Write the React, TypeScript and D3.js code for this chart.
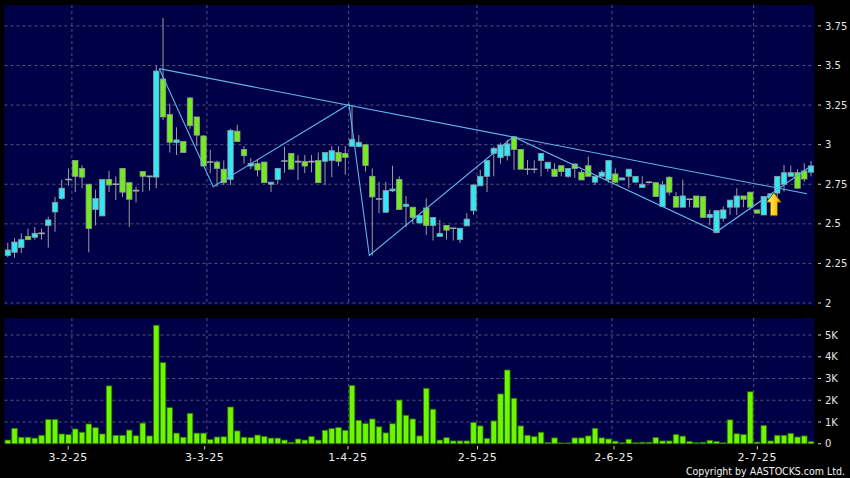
import React from "react";
import * as d3 from "d3";

// Daily OHLC prices (HKD) and turnover
const opens = [
  2.30, 2.32, 2.35, 2.42, 2.415, 2.44, 2.49, 2.575, 2.66, 2.78,
  2.90, 2.85, 2.75, 2.59, 2.55, 2.78, 2.75, 2.85, 2.76, 2.71,
  2.83, 2.80, 2.795, 3.415, 3.19, 3.013, 3.02, 3.295, 3.175, 3.055,
  2.89, 2.89, 2.845, 2.78, 3.085, 2.97, 2.865, 2.88, 2.89, 2.75,
  2.78, 2.897, 2.945, 2.893, 2.893, 2.893, 2.90, 2.895, 2.90, 2.95,
  2.945, 2.99, 2.987, 3.00, 2.80, 2.657, 2.573, 2.708, 2.78, 2.61,
  2.605, 2.505, 2.60, 2.49, 2.42, 2.49, 2.472, 2.40, 2.487, 2.583,
  2.74, 2.80, 2.945, 2.918, 2.93, 3.05, 2.97, 2.845, 2.845, 2.90,
  2.85, 2.845, 2.867, 2.80, 2.878, 2.826, 2.867, 2.763, 2.80, 2.78,
  2.815, 2.777, 2.80, 2.763, 2.73, 2.763, 2.76, 2.61, 2.794, 2.672,
  2.605, 2.655, 2.676, 2.672, 2.54, 2.444, 2.535, 2.605, 2.605, 2.676,
  2.70, 2.588, 2.556, 2.66, 2.694, 2.75, 2.80, 2.823, 2.834, 2.826,
];
const highs = [
  2.38, 2.41, 2.44, 2.47, 2.48, 2.47, 2.545, 2.67, 2.78, 2.85,
  2.90, 2.87, 2.75, 2.715, 2.78, 2.835, 2.80, 2.85, 2.76, 2.735,
  2.83, 2.80, 3.50, 3.80, 3.26, 3.11, 3.02, 3.30, 3.175, 3.06,
  2.967, 2.90, 2.90, 3.10, 3.125, 2.99, 2.915, 2.91, 2.89, 2.765,
  2.85, 2.987, 2.945, 2.935, 2.935, 2.935, 2.95, 2.95, 2.99, 2.99,
  2.99, 3.25, 3.06, 3.00, 2.85, 2.766, 2.765, 2.867, 2.80, 2.675,
  2.605, 2.56, 2.66, 2.54, 2.525, 2.49, 2.472, 2.472, 2.567, 2.746,
  2.84, 2.90, 2.987, 3.01, 3.03, 3.05, 2.97, 2.903, 2.90, 2.945,
  2.889, 2.882, 2.867, 2.85, 2.882, 2.84, 2.925, 2.80, 2.84, 2.90,
  2.85, 2.79, 2.845, 2.80, 2.80, 2.77, 2.76, 2.77, 2.80, 2.70,
  2.78, 2.655, 2.676, 2.672, 2.59, 2.583, 2.61, 2.65, 2.725, 2.676,
  2.70, 2.588, 2.672, 2.69, 2.80, 2.872, 2.867, 2.845, 2.882, 2.897,
];
const lows = [
  2.29, 2.285, 2.315, 2.40, 2.40, 2.40, 2.35, 2.45, 2.65, 2.74,
  2.70, 2.725, 2.32, 2.49, 2.55, 2.70, 2.65, 2.67, 2.48, 2.635,
  2.70, 2.71, 2.725, 3.155, 2.95, 2.935, 2.95, 3.10, 2.99, 2.865,
  2.82, 2.735, 2.745, 2.745, 3.02, 2.88, 2.845, 2.80, 2.76, 2.70,
  2.75, 2.823, 2.845, 2.777, 2.82, 2.825, 2.76, 2.745, 2.795, 2.865,
  2.81, 2.987, 2.985, 2.83, 2.30, 2.567, 2.573, 2.70, 2.59, 2.48,
  2.50, 2.505, 2.43, 2.395, 2.42, 2.40, 2.395, 2.38, 2.487, 2.556,
  2.74, 2.70, 2.80, 2.88, 2.90, 2.84, 2.845, 2.81, 2.82, 2.80,
  2.83, 2.80, 2.80, 2.79, 2.79, 2.777, 2.80, 2.745, 2.80, 2.76,
  2.76, 2.777, 2.725, 2.76, 2.73, 2.755, 2.672, 2.61, 2.68, 2.605,
  2.605, 2.605, 2.605, 2.54, 2.49, 2.444, 2.514, 2.556, 2.556, 2.605,
  2.59, 2.567, 2.556, 2.64, 2.67, 2.703, 2.80, 2.725, 2.766, 2.80,
];
const closes = [
  2.335, 2.385, 2.40, 2.40, 2.44, 2.44, 2.525, 2.635, 2.725, 2.78,
  2.80, 2.795, 2.47, 2.66, 2.78, 2.745, 2.75, 2.70, 2.655, 2.71,
  2.80, 2.80, 3.465, 3.175, 3.015, 3.03, 2.95, 3.12, 3.06, 2.865,
  2.89, 2.85, 2.76, 3.09, 3.02, 2.93, 2.882, 2.84, 2.76, 2.763,
  2.85, 2.897, 2.845, 2.893, 2.865, 2.893, 2.76, 2.95, 2.962, 2.895,
  2.92, 3.034, 3.015, 2.868, 2.67, 2.657, 2.71, 2.72, 2.59, 2.624,
  2.54, 2.552, 2.49, 2.54, 2.44, 2.46, 2.472, 2.472, 2.53, 2.746,
  2.80, 2.90, 2.977, 2.998, 3.005, 2.97, 2.845, 2.845, 2.845, 2.945,
  2.889, 2.80, 2.83, 2.85, 2.85, 2.777, 2.80, 2.80, 2.826, 2.90,
  2.763, 2.79, 2.845, 2.80, 2.75, 2.763, 2.672, 2.746, 2.70, 2.605,
  2.676, 2.655, 2.605, 2.54, 2.56, 2.583, 2.588, 2.65, 2.676, 2.655,
  2.605, 2.567, 2.672, 2.69, 2.80, 2.823, 2.823, 2.725, 2.783, 2.866,
];
const volumes = [
  170, 710, 300, 300, 260, 390, 1120, 1120, 450, 420,
  680, 530, 910, 740, 450, 2660, 390, 390, 630, 370,
  950, 360, 5450, 3730, 1660, 490, 300, 1400, 490, 490,
  200, 310, 320, 1690, 590, 300, 280, 400, 340, 260,
  260, 170, 70, 220, 170, 340, 170, 620, 700, 750,
  620, 2680, 1080, 930, 1140, 780, 500, 920, 2010, 1310,
  1140, 360, 2550, 1590, 170, 280, 130, 130, 130, 980,
  820, 250, 1050, 2290, 3390, 2090, 820, 390, 330, 530,
  60, 270, 40, 40, 270, 270, 360, 710, 270, 220,
  120, 50, 210, 50, 70, 70, 290, 130, 130, 430,
  350, 110, 50, 70, 160, 110, 50, 1100, 460, 430,
  2390, 80, 840, 130, 390, 390, 480, 310, 360, 100,
];

// Month-start sessions marked on the time axis
const dateTickIndex = [10, 30, 51, 70, 90, 111];
const dateTickLabels = ["3-2-25", "3-3-25", "1-4-25", "2-5-25", "2-6-25", "2-7-25"];

const priceTicks = [2, 2.25, 2.5, 2.75, 3, 3.25, 3.5, 3.75];
const priceTickLabels = ["2", "2.25", "2.5", "2.75", "3", "3.25", "3.5", "3.75"];
const volumeTicks = [0, 1000, 2000, 3000, 4000, 5000];
const volumeTickLabels = ["0", "1K", "2K", "3K", "4K", "5K"];

// Pattern overlay: swing zigzag and descending resistance (session index, price)
const zigzagIndex = [22.44, 30.44, 50.55, 53.56, 74.89, 105.0, 118.85];
const zigzagPrice = [3.48, 2.735, 3.255, 2.30, 3.05, 2.45, 2.86];
const resistanceIndex = [22.44, 118.4];
const resistancePrice = [3.48, 2.69];
const breakoutIndex = 113.5;

const W = 850;
const H = 478;
const plotLeft = 4.4;
const plotRight = 814.4;
const priceTop = 5;
const priceBottom = 305;
const volTop = 318;
const volBottom = 444;

const CYAN = "#33e8f4";
const GREEN = "#74ec1c";
const VOL_GREEN = "#6cf700";
const GRID = "#52527e";
const TREND = "#5fb4ea";
const NAVY = "#000046";
const FONT = "'DejaVu Sans', sans-serif";

export default function App() {
  const n = closes.length;
  const idx = d3.range(n);

  const xBand = d3.scaleBand<number>().domain(idx).range([plotLeft, plotRight]).paddingInner(0.2).paddingOuter(0.1);
  const step = xBand.step();
  const xC = (i: number) => (xBand(i) as number) + xBand.bandwidth() / 2;
  const xLin = d3.scaleLinear().domain([0, n - 1]).range([xC(0), xC(n - 1)]);
  const gridX = (i: number) => plotLeft + i * step;
  // Labels spread slightly wider than the grid positions
  const labelX = d3.scaleLinear().domain([plotLeft, plotRight]).range([plotLeft - 4.4, plotRight + 4.3]);

  const yP = d3.scaleLinear().domain([2, 3.75]).range([303, 25.9]);
  const yV = d3.scaleLinear().domain([0, 5000]).range([443.75, 335]);

  const zigLine = d3
    .line<number>()
    .x((i) => xLin(zigzagIndex[i]))
    .y((i) => yP(zigzagPrice[i]));
  const resLine = d3
    .line<number>()
    .x((i) => xLin(resistanceIndex[i]))
    .y((i) => yP(resistancePrice[i]));

  const bw = 5.4;
  const vbw = 5.6;

  const ax = xLin(breakoutIndex);
  const ay = yP(closes[113]) - 1;

  return (
    <svg
      width={W}
      height={H}
      viewBox={`0 0 ${W} ${H}`}
      style={{ position: "absolute", left: 0, top: 0, display: "block", background: "#000" }}
      fontFamily={FONT}
    >
      <defs>
        <linearGradient id="arrowFill" x1="0" y1="0" x2="1" y2="0">
          <stop offset="0%" stopColor="#fff27a" />
          <stop offset="55%" stopColor="#ffd21e" />
          <stop offset="100%" stopColor="#e89400" />
        </linearGradient>
        <clipPath id="priceClip">
          <rect x={plotLeft} y={priceTop} width={plotRight - plotLeft} height={priceBottom - priceTop} />
        </clipPath>
      </defs>
      <rect x={0} y={0} width={W} height={H} fill="#000" />

      {/* price panel */}
      <rect x={plotLeft} y={priceTop} width={plotRight - plotLeft} height={priceBottom - priceTop} fill={NAVY} />
      {priceTicks.map((p) => (
        <line key={"pg" + p} x1={plotLeft} x2={plotRight} y1={yP(p)} y2={yP(p)} stroke={GRID} strokeDasharray="3,3" />
      ))}
      {dateTickIndex.map((i) => (
        <line key={"pv" + i} x1={gridX(i)} x2={gridX(i)} y1={priceTop} y2={priceBottom} stroke={GRID} strokeDasharray="3,3" />
      ))}

      {/* volume panel */}
      <rect x={plotLeft} y={volTop} width={plotRight - plotLeft} height={volBottom - volTop} fill={NAVY} />
      {volumeTicks.slice(1).map((v) => (
        <line key={"vg" + v} x1={plotLeft} x2={plotRight} y1={yV(v)} y2={yV(v)} stroke={GRID} strokeDasharray="3,3" />
      ))}
      {dateTickIndex.map((i) => (
        <line key={"vv" + i} x1={gridX(i)} x2={gridX(i)} y1={volTop} y2={volBottom} stroke={GRID} strokeDasharray="3,3" />
      ))}

      {/* volume bars */}
      {idx.map((i) => (
        <rect
          key={"v" + i}
          x={xC(i) - vbw / 2}
          y={yV(volumes[i])}
          width={vbw}
          height={Math.max(0.5, yV(0) - yV(volumes[i]))}
          fill={VOL_GREEN}
          stroke="#2b6a00"
          strokeWidth={0.8}
        />
      ))}

      {/* candlesticks */}
      <g clipPath="url(#priceClip)">
        {idx.map((i) => {
          const o = opens[i];
          const c = closes[i];
          const x = xC(i);
          const top = yP(Math.max(o, c));
          const bot = yP(Math.min(o, c));
          const doji = Math.abs(o - c) < 0.001;
          return (
            <g key={"c" + i}>
              <line x1={x} x2={x} y1={yP(highs[i])} y2={yP(lows[i])} stroke="#9c9c9c" strokeWidth={1} />
              {doji ? (
                <line x1={x - bw / 2 - 0.5} x2={x + bw / 2 + 0.5} y1={top} y2={top} stroke="#a8a8a8" strokeWidth={1.6} />
              ) : (
                <rect
                  x={x - bw / 2}
                  y={top}
                  width={bw}
                  height={Math.max(1.5, bot - top)}
                  fill={c > o ? CYAN : GREEN}
                  stroke="#8e9a9a"
                  strokeWidth={0.8}
                />
              )}
            </g>
          );
        })}

        {/* pattern lines */}
        <path d={zigLine(d3.range(zigzagIndex.length)) || ""} fill="none" stroke={TREND} strokeWidth={1.1} />
        <path d={resLine(d3.range(resistanceIndex.length)) || ""} fill="none" stroke={TREND} strokeWidth={1.1} />

        {/* breakout marker */}
        <path
          transform={`translate(${ax},${ay})`}
          d="M0,0 L7.5,9.5 L3.6,9.5 L3.6,23 L-3.6,23 L-3.6,9.5 L-7.5,9.5 Z"
          fill="url(#arrowFill)"
          stroke="#6b4a00"
          strokeWidth={0.9}
          strokeLinejoin="round"
        />
      </g>

      {/* right price axis */}
      {priceTicks.map((p, k) => (
        <g key={"pl" + p}>
          <line x1={818} x2={821} y1={yP(p)} y2={yP(p)} stroke="#cfcfcf" />
          <text x={825} y={yP(p)} dy="0.36em" fontSize={10} fill="#e6e6e6">
            {priceTickLabels[k]}
          </text>
        </g>
      ))}

      {/* right volume axis */}
      {volumeTicks.map((v, k) => (
        <g key={"vl" + v}>
          <line x1={818} x2={821} y1={yV(v)} y2={yV(v)} stroke="#cfcfcf" />
          <text x={825} y={yV(v)} dy="0.36em" fontSize={10} fill="#e6e6e6">
            {volumeTickLabels[k]}
          </text>
        </g>
      ))}

      {/* time axis */}
      {dateTickIndex.map((i, k) => {
        const lx = labelX(gridX(i));
        return (
          <g key={"dl" + i}>
            <line x1={lx} x2={lx} y1={446} y2={449.5} stroke="#cfcfcf" />
            <text x={lx} y={461} textAnchor="middle" fontSize={11} letterSpacing={0.6} fill="#eeeeee">
              {dateTickLabels[k]}
            </text>
          </g>
        );
      })}

      <text
        x={845}
        y={474.5}
        textAnchor="end"
        fontSize={10.5}
        fontFamily="'DejaVu Sans Condensed', 'DejaVu Sans', sans-serif"
        fill="#f0f0f0"
      >
        Copyright by AASTOCKS.com Ltd.
      </text>
    </svg>
  );
}
